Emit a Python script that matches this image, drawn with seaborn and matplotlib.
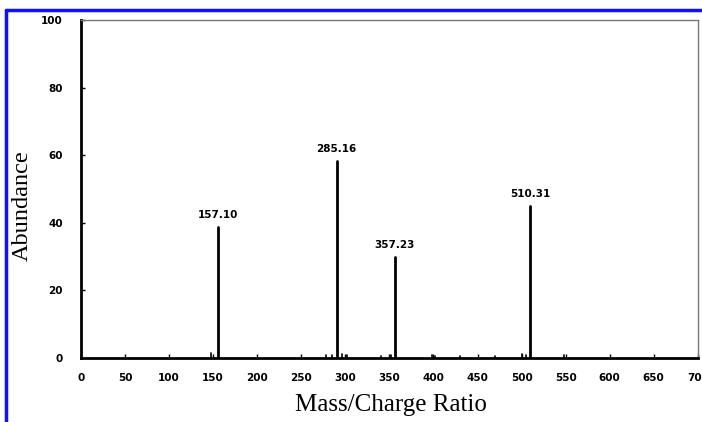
import numpy as np
import pandas as pd
import seaborn as sns
import matplotlib.pyplot as plt
from matplotlib.lines import Line2D

# main peaks (position, label as printed)
peak_mz = [156, 290, 356, 510]
peak_abund = [38.8, 58.3, 29.9, 45.0]
peak_labels = ["157.10", "285.16", "357.23", "510.31"]

# small noise peaks near baseline
noise_mz = [148, 278, 285, 296, 302, 340, 352, 398, 402, 430, 470, 500, 505, 548]
noise_abund = [1.5, 0.8, 1.0, 1.2, 0.8, 0.6, 1.0, 1.0, 0.6, 0.5, 0.5, 1.2, 0.8, 0.8]

x_ticks = [0, 50, 100, 150, 200, 250, 300, 350, 400, 450, 500, 550, 600, 650, 700]
y_ticks = [0, 20, 40, 60, 80, 100]

# long-form table: each stem is two points (base, top)
all_mz = peak_mz + noise_mz
all_ab = peak_abund + noise_abund
rows = []
for i, (m, a) in enumerate(zip(all_mz, all_ab)):
    rows.append({"mz": m, "abundance": 0.0, "peak": i})
    rows.append({"mz": m, "abundance": a, "peak": i})
df = pd.DataFrame(rows)
df["main"] = df["peak"] < len(peak_mz)

sns.set_style("ticks")
plt.rcParams['font.family'] = ['DejaVu Sans']
plt.rcParams['text.color'] = 'black'
plt.rcParams['axes.labelcolor'] = 'black'
plt.rcParams['xtick.color'] = 'black'
plt.rcParams['ytick.color'] = 'black'

fig = plt.figure(figsize=(7.02, 4.22), dpi=100)
ax = fig.add_axes([0.1154, 0.1517, 0.8786, 0.8009])

sns.lineplot(data=df[df["main"]], x="mz", y="abundance", units="peak",
             estimator=None, color="black", linewidth=2.0, ax=ax)
sns.lineplot(data=df[~df["main"]], x="mz", y="abundance", units="peak",
             estimator=None, color="black", linewidth=1.2, ax=ax)

for m, a, lab in zip(peak_mz, peak_abund, peak_labels):
    ax.annotate(lab, (m, a), xytext=(0, 5), textcoords="offset points",
                ha="center", va="bottom", fontsize=7.5, fontweight="bold")

ax.set_xlim(0, 700)
ax.set_ylim(0, 100)
ax.set_xticks(x_ticks)
ax.set_yticks(y_ticks)
ax.tick_params(axis="x", direction="in", length=3, width=1, labelsize=7.5, pad=11)
ax.tick_params(axis="y", direction="in", length=3, width=1, labelsize=7.5, pad=13)
for t in ax.get_xticklabels() + ax.get_yticklabels():
    t.set_fontweight("bold")

ax.spines["left"].set_linewidth(2)
ax.spines["left"].set_color("black")
ax.spines["bottom"].set_linewidth(2)
ax.spines["bottom"].set_color("black")
for s in ["top", "right"]:
    ax.spines[s].set_visible(True)
    ax.spines[s].set_color("#777777")
    ax.spines[s].set_linestyle((0, (1, 1)))
    ax.spines[s].set_linewidth(1)

ax.set_xlabel("Mass/Charge Ratio", fontsize=18, family="Liberation Serif")
ax.set_ylabel("Abundance", fontsize=17.5, family="Liberation Serif")
ax.xaxis.set_label_coords(0.502, -0.108)
ax.yaxis.set_label_coords(-0.079, 0.45)

# blue frame around the figure (cropped at right/bottom)
fig.add_artist(Line2D([0.0092, 0.0092], [0.0, 0.977], color="#1010ff", linewidth=2.5,
                      transform=fig.transFigure))
fig.add_artist(Line2D([0.0092, 1.0], [0.977, 0.977], color="#1010ff", linewidth=2.5,
                      transform=fig.transFigure))

fig.savefig("out.png", dpi=100)
